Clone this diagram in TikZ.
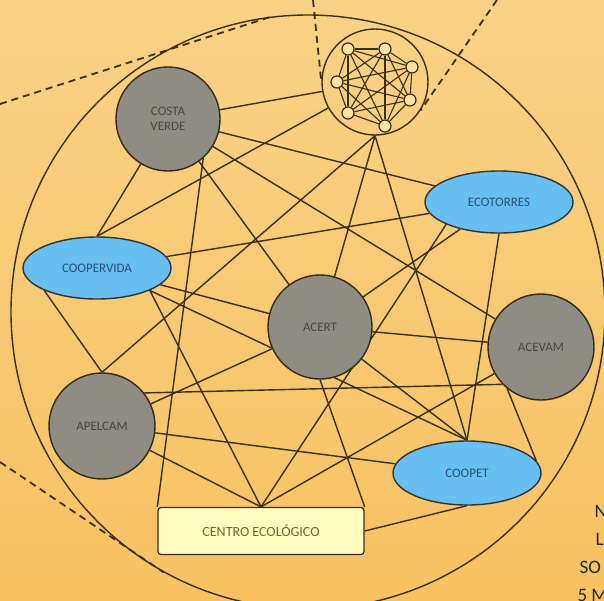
\documentclass[tikz,border=0pt]{standalone}
\usepackage{fontspec}
\setmainfont{Carlito}
\usetikzlibrary{shapes.geometric}
\usetikzlibrary{backgrounds}
\definecolor{bgtop}{RGB}{249,210,134}
\definecolor{bgmid}{RGB}{253,226,162}
\definecolor{bgbot}{RGB}{248,194,98}
\definecolor{linec}{RGB}{58,46,20}
\definecolor{orggray}{RGB}{143,140,131}
\definecolor{orgblue}{RGB}{104,192,242}
\definecolor{boxfill}{RGB}{255,253,192}
\tikzset{
  link/.style={draw=linec, line width=1.4pt},
  cut/.style={draw=linec, line width=1.8pt, dash pattern=on 7pt off 5pt},
  grayorg/.style={circle, draw=linec!90!black, line width=1.4pt, fill=orggray, minimum size=104pt, inner sep=0pt, align=center, text=black!72, font=\fontsize{13}{15}\selectfont},
  blueorg/.style={ellipse, draw=black!80, line width=1.4pt, fill=orgblue, minimum width=148pt, minimum height=62pt, inner sep=0pt, text={rgb,255:red,40;green,78;blue,118}, font=\fontsize{13}{15}\selectfont},
  ecobox/.style={rectangle, rounded corners=3pt, draw=linec, line width=1.3pt, fill=boxfill, minimum width=206pt, minimum height=47pt, text={rgb,255:red,110;green,105;blue,50}, font=\fontsize{14}{16}\selectfont},
  ring/.style={circle, draw=linec, line width=1.4pt, inner sep=0pt},
  dot/.style={circle, draw=linec, line width=1.2pt, fill=bgmid, minimum size=12pt, inner sep=0pt},
  cuttext/.style={anchor=base west, text=black!85, font=\fontsize{19}{22}\selectfont}
}

\begin{document}
\begin{tikzpicture}[x=1pt, y=-1pt]
\useasboundingbox (0,0) rectangle (604,600);
\node[ring, minimum size=594pt] (campo) at (308,312) {};
\node[ring, minimum size=106pt] (red) at (375,82) {};
\node[grayorg] (costa) at (168,119) {COSTA\\VERDE};
\node[blueorg] (ecotorres) at (499,202) {ECOTORRES};
\node[blueorg] (coopervida) at (97,268) {COOPERVIDA};
\node[grayorg] (acert) at (320,327) {ACERT};
\node[grayorg, minimum size=106pt] (acevam) at (541,347) {ACEVAM};
\node[grayorg, minimum size=106pt] (apelcam) at (102,426) {APELCAM};
\node[blueorg, minimum height=64pt] (coopet) at (467,473) {COOPET};
\node[ecobox] (centro) at (261,531) {CENTRO ECOLÓGICO};
% small network inside the ring
\foreach \n/\x/\y in {1/348/49, 2/385/49, 3/412/67, 4/337/82, 5/410/100, 6/348/113, 7/385/126}
  \node[dot] (n\n) at (\x,\y) {};
% dashed cuts
\coordinate (c1) at (0,104);
\coordinate (c2) at (313,0);
\coordinate (c3) at (497,0);
\coordinate (c4) at (0,462);
% partly hidden text
\node[cuttext] (t1) at (591,517) {N};
\node[cuttext] (t2) at (592,545) {LI};
\node[cuttext] (t3) at (576,573) {SO};
\node[cuttext] (t4) at (574,601) {5 M};
\begin{pgfonlayer}{background}
\shade[top color=bgtop, middle color=bgmid, bottom color=bgbot] (0,0) rectangle (604,600);
\draw[cut] (c1) -- (campo.97);
\draw[cut] (c2) -- (red.west);
\draw[cut] (c3) -- (red.-32);
\draw[cut] (c4) -- (campo.241);
\foreach \i in {1,...,6} {
  \pgfmathtruncatemacro{\k}{\i+1}
  \foreach \j in {\k,...,7}
    \draw[link, line width=1.1pt] (n\i) -- (n\j);
}
\foreach \a/\b in {costa/red, costa/coopervida.north, costa/acert, costa/ecotorres, costa/acevam,
    red/coopervida.north, red.south/apelcam.north, red.south/acert, red.south/coopet.north,
    ecotorres/coopervida, ecotorres/acert, ecotorres.south west/centro.north, ecotorres.south/coopet.north,
    coopervida/acert, coopervida.south east/coopet.north, coopervida.south east/centro.north,
    coopervida.south west/apelcam.north,
    acert/acevam, acert/apelcam, acert.south/centro.north east, acert/coopet.north,
    apelcam.38/acevam.224, acevam/centro.north, acevam.231/coopet.10,
    apelcam/centro.north, apelcam/coopet, coopet.south/centro.east}
  \draw[link] (\a) -- (\b);
\draw[link] (costa.-48) -- (centro.north west);
\end{pgfonlayer}
\end{tikzpicture}
\end{document}
